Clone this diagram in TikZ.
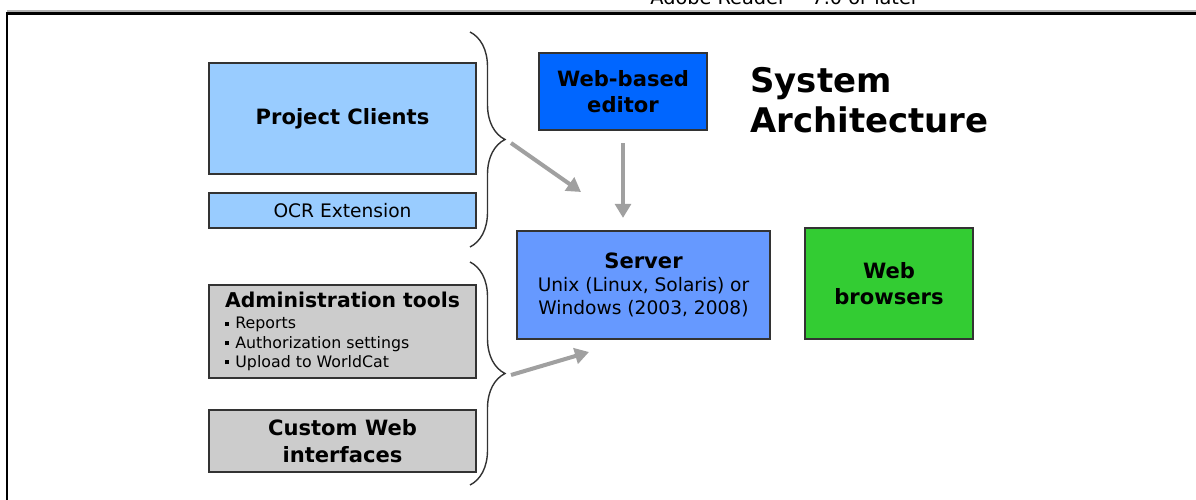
\documentclass[tikz,border=0pt]{standalone}
\usepackage{fontspec}
\setmainfont{DejaVu Sans}
\usetikzlibrary{arrows.meta,decorations.pathreplacing}

\definecolor{clientblue}{HTML}{99CCFF}
\definecolor{admingray}{HTML}{CCCCCC}
\definecolor{editorblue}{HTML}{0066FF}
\definecolor{serverblue}{HTML}{6699FF}
\definecolor{browsergreen}{HTML}{33CC33}
\definecolor{arrowgray}{HTML}{A0A0A0}
\definecolor{boxline}{HTML}{333333}

\newcommand{\bigbold}{\fontsize{12pt}{15pt}\selectfont\bfseries}
\newcommand{\plaintext}{\fontsize{10.6pt}{13.3pt}\selectfont}
\newcommand{\smalltext}{\fontsize{9pt}{10.5pt}\selectfont}
\newcommand{\sqbullet}{\raisebox{0.35ex}{\rule{2.4pt}{2.4pt}}\hspace{3.5pt}}

\tikzset{
  box/.style={draw=boxline, line width=0.9pt, inner sep=0pt, align=center},
  arr/.style={draw=arrowgray, line width=2.3pt, -{Triangle[length=8pt,width=9pt]}},
  curly/.style={decorate, decoration={brace, amplitude=0.7cm}, line width=0.8pt, draw=boxline}
}

\begin{document}
\begin{tikzpicture}[x=0.02cm, y=-0.02cm]
\useasboundingbox (0,0) rectangle (1196,500);
\clip (0,0) rectangle (1196,500);

% page frame and the cut text above it
\node[anchor=base west, inner sep=0pt, font=\fontsize{11pt}{13pt}\selectfont] (adobe) at (650,5) {Adobe Reader™ 7.0 or later};
\draw[gray!60, line width=0.6pt] (7,11) -- (1196,11);
\draw[line width=1.4pt] (7,500) -- (7,13.5) -- (1196,13.5);

% clients
\node[box, fill=clientblue, minimum width=5.34cm, minimum height=2.22cm, font=\bigbold] (pc) at (342.5,118.5) {Project Clients};
\node[box, fill=clientblue, minimum width=5.34cm, minimum height=0.70cm, font=\plaintext] (ocr) at (342.5,210.5) {OCR Extension};

% administration
\node[box, fill=admingray, minimum width=5.34cm, minimum height=1.86cm, align=left] (adm) at (342.5,331.5)
  {{\fontsize{11.6pt}{12pt}\selectfont\bfseries Administration tools}\\[0pt]
   {\smalltext\sqbullet Reports}\\[-1pt]
   {\smalltext\sqbullet Authorization settings}\\[-1pt]
   {\smalltext\sqbullet Upload to WorldCat}};
\node[box, fill=admingray, minimum width=5.34cm, minimum height=1.24cm, font=\bigbold] (cwi) at (342.5,441) {Custom Web\\interfaces};

% braces
\draw[curly] (470,32) -- (470,247);
\draw[curly] (470,262) -- (470,485);
\coordinate (tip1) at (511,143);
\coordinate (tip2) at (511,375);
\coordinate (end1) at (581,192);
\coordinate (end2) at (589,352);

% editor, server, browsers
\node[box, fill=editorblue, minimum width=3.36cm, minimum height=1.54cm, font=\bigbold] (wbe) at (623,91.5) {Web-based\\editor};
\node[box, fill=serverblue, minimum width=5.06cm, minimum height=2.16cm] (srv) at (643.5,285)
  {{\bigbold Server}\\[1pt]
   {\plaintext Unix (Linux, Solaris) or}\\[1pt]
   {\plaintext Windows (2003, 2008)}};
\node[box, fill=browsergreen, minimum width=3.36cm, minimum height=2.22cm, font=\bigbold] (wbr) at (889,283.5) {Web\\browsers};

\node[anchor=west, align=left, inner sep=0pt, font=\fontsize{19.3pt}{22.7pt}\selectfont\bfseries] (title) at (750,100) {System\\Architecture};

% arrows
\draw[arr] (tip1) -- (end1);
\draw[arr, shorten <=7pt, shorten >=7pt] (wbe.south) -- (wbe.south |- srv.north);
\draw[arr] (tip2) -- (end2);
\end{tikzpicture}
\end{document}
